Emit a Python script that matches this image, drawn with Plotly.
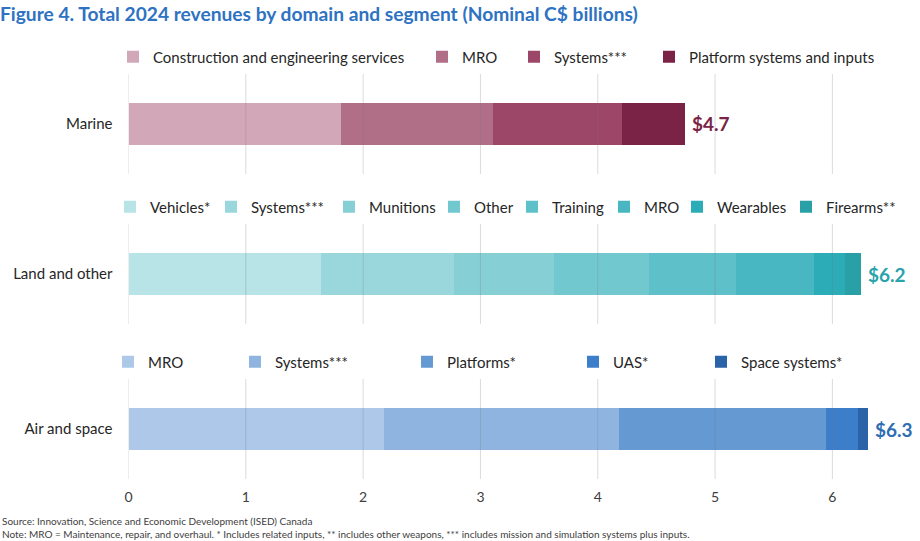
import plotly.graph_objects as go

# ---------------- data ----------------
domains = ["Marine", "Land and other", "Air and space"]

marine_segments = ["Construction and engineering services", "MRO", "Systems***", "Platform systems and inputs"]
marine_values = [1.81, 1.29, 1.10, 0.54]
marine_colors = ["#D2A8B8", "#B06F87", "#9C4767", "#7B2346"]

land_segments = ["Vehicles*", "Systems***", "Munitions", "Other", "Training", "MRO", "Wearables", "Firearms**"]
land_values = [1.64, 1.13, 0.85, 0.81, 0.74, 0.67, 0.26, 0.14]
land_colors = ["#B8E3E7", "#99D7DD", "#86CFD5", "#72C8CF", "#5EC0C8", "#49B7C2", "#2BACB7", "#28A0A6"]

air_segments = ["MRO", "Systems***", "Platforms*", "UAS*", "Space systems*"]
air_values = [2.17, 2.01, 1.76, 0.27, 0.09]
air_colors = ["#ADC8E8", "#8FB4DF", "#6599D2", "#3C7EC9", "#2B63A8"]

total_colors = ["#7B2346", "#2AA3AD", "#2E6DB4"]
x_ticks = [0, 1, 2, 3, 4, 5, 6]

title_text = "Figure 4. Total 2024 revenues by domain and segment (Nominal C$ billions)"
source_text = "Source: Innovation, Science and Economic Development (ISED) Canada"
note_text = ("Note: MRO = Maintenance, repair, and overhaul. * Includes related inputs, ** includes other weapons, "
             "*** includes mission and simulation systems plus inputs.")

# ---------------- layout helpers ----------------
W, H = 920, 541
FONT = "Lato"

def px_x(p):
    return p / W

def px_y(p):
    return 1 - p / H

# per-domain: (segments, values, colors, legend text-start pixels, legend y px, subplot top px, subplot bottom px)
groups = [
    (marine_segments, marine_values, marine_colors, [152, 461, 553, 688], 57, 74, 174),
    (land_segments, land_values, land_colors, [149, 250, 368, 473, 551, 643, 716, 825], 207, 224, 324),
    (air_segments, air_values, air_colors, [147, 274, 446, 612, 740], 362, 379, 479),
]

fig = go.Figure()
layout_extra = {}
legend_idx = 0
annotations = []
shapes = []

for gi, (segs, vals, cols, leg_x, leg_y, top, bot) in enumerate(groups):
    ax = "" if gi == 0 else str(gi + 1)
    xref, yref = "x" + ax, "y" + ax
    cat = domains[gi]
    for si, (s, v, c) in enumerate(zip(segs, vals, cols)):
        legend_idx += 1
        lname = "legend" if legend_idx == 1 else f"legend{legend_idx}"
        fig.add_trace(go.Bar(
            x=[v], y=[cat], orientation="h", name=s,
            marker=dict(color=c, line=dict(width=0)),
            width=1, xaxis=xref, yaxis=yref, legend=lname,
            hovertemplate=f"{s}: %{{x:.2f}}<extra>{cat}</extra>",
        ))
        layout_extra[lname] = dict(
            x=px_x(leg_x[si] - 39), xanchor="left",
            y=px_y(leg_y), yanchor="middle",
            orientation="h", bgcolor="rgba(0,0,0,0)", borderwidth=0,
            font=dict(family=FONT, size=15, color="#262626"),
            itemclick=False, itemdoubleclick=False,
        )
    # axes
    layout_extra["xaxis" + ax] = dict(
        domain=[128.5 / W, 914.5 / W], range=[0, 6.7], anchor=yref,
        showgrid=False, zeroline=False, showline=False, automargin=False,
        tickvals=x_ticks, showticklabels=(gi == 2), ticks="",
        ticklabelstandoff=8,
        tickfont=dict(family=FONT, size=14, color="#404040"),
        fixedrange=True,
    )
    layout_extra["yaxis" + ax] = dict(
        domain=[px_y(bot), px_y(top)], anchor=xref, type="category",
        range=[-1.19, 1.19], showgrid=False, zeroline=False, showline=False,
        automargin=False, ticks="", ticklabelstandoff=15,
        tickfont=dict(family=FONT, size=15, color="#262626"),
        fixedrange=True,
    )
    # gridlines drawn above the bars (faint), as in the reference
    for t in x_ticks:
        shapes.append(dict(type="line", xref=xref, yref=yref + " domain",
                           x0=t, x1=t, y0=0, y1=1, layer="above",
                           line=dict(color="rgba(120,120,120,0.27)", width=1)))
    total = sum(vals)
    annotations.append(dict(
        x=total, y=cat, xref=xref, yref=yref, xanchor="left", yanchor="middle",
        xshift=5, showarrow=False, text=f"<b>${total:.1f}</b>",
        font=dict(family=FONT, size=19, color=total_colors[gi]),
    ))

annotations.append(dict(
    x=px_x(-2), y=px_y(14), xref="paper", yref="paper", xanchor="left", yanchor="middle",
    showarrow=False, text=f"<b>{title_text}</b>",
    font=dict(family=FONT, size=19.2, color="#2E72C2"),
))
annotations.append(dict(
    x=px_x(0), y=px_y(521), xref="paper", yref="paper", xanchor="left", yanchor="middle",
    showarrow=False, text=source_text,
    font=dict(family=FONT, size=10, color="#404040"),
))
annotations.append(dict(
    x=px_x(0), y=px_y(534), xref="paper", yref="paper", xanchor="left", yanchor="middle",
    showarrow=False, text=note_text,
    font=dict(family=FONT, size=10, color="#404040"),
))

fig.update_layout(
    width=W, height=H,
    margin=dict(l=0, r=0, t=0, b=0),
    paper_bgcolor="white", plot_bgcolor="white",
    barmode="stack", bargap=0,
    showlegend=True,
    annotations=annotations, shapes=shapes,
    font=dict(family=FONT),
    **layout_extra,
)

fig.write_html("out.html")
